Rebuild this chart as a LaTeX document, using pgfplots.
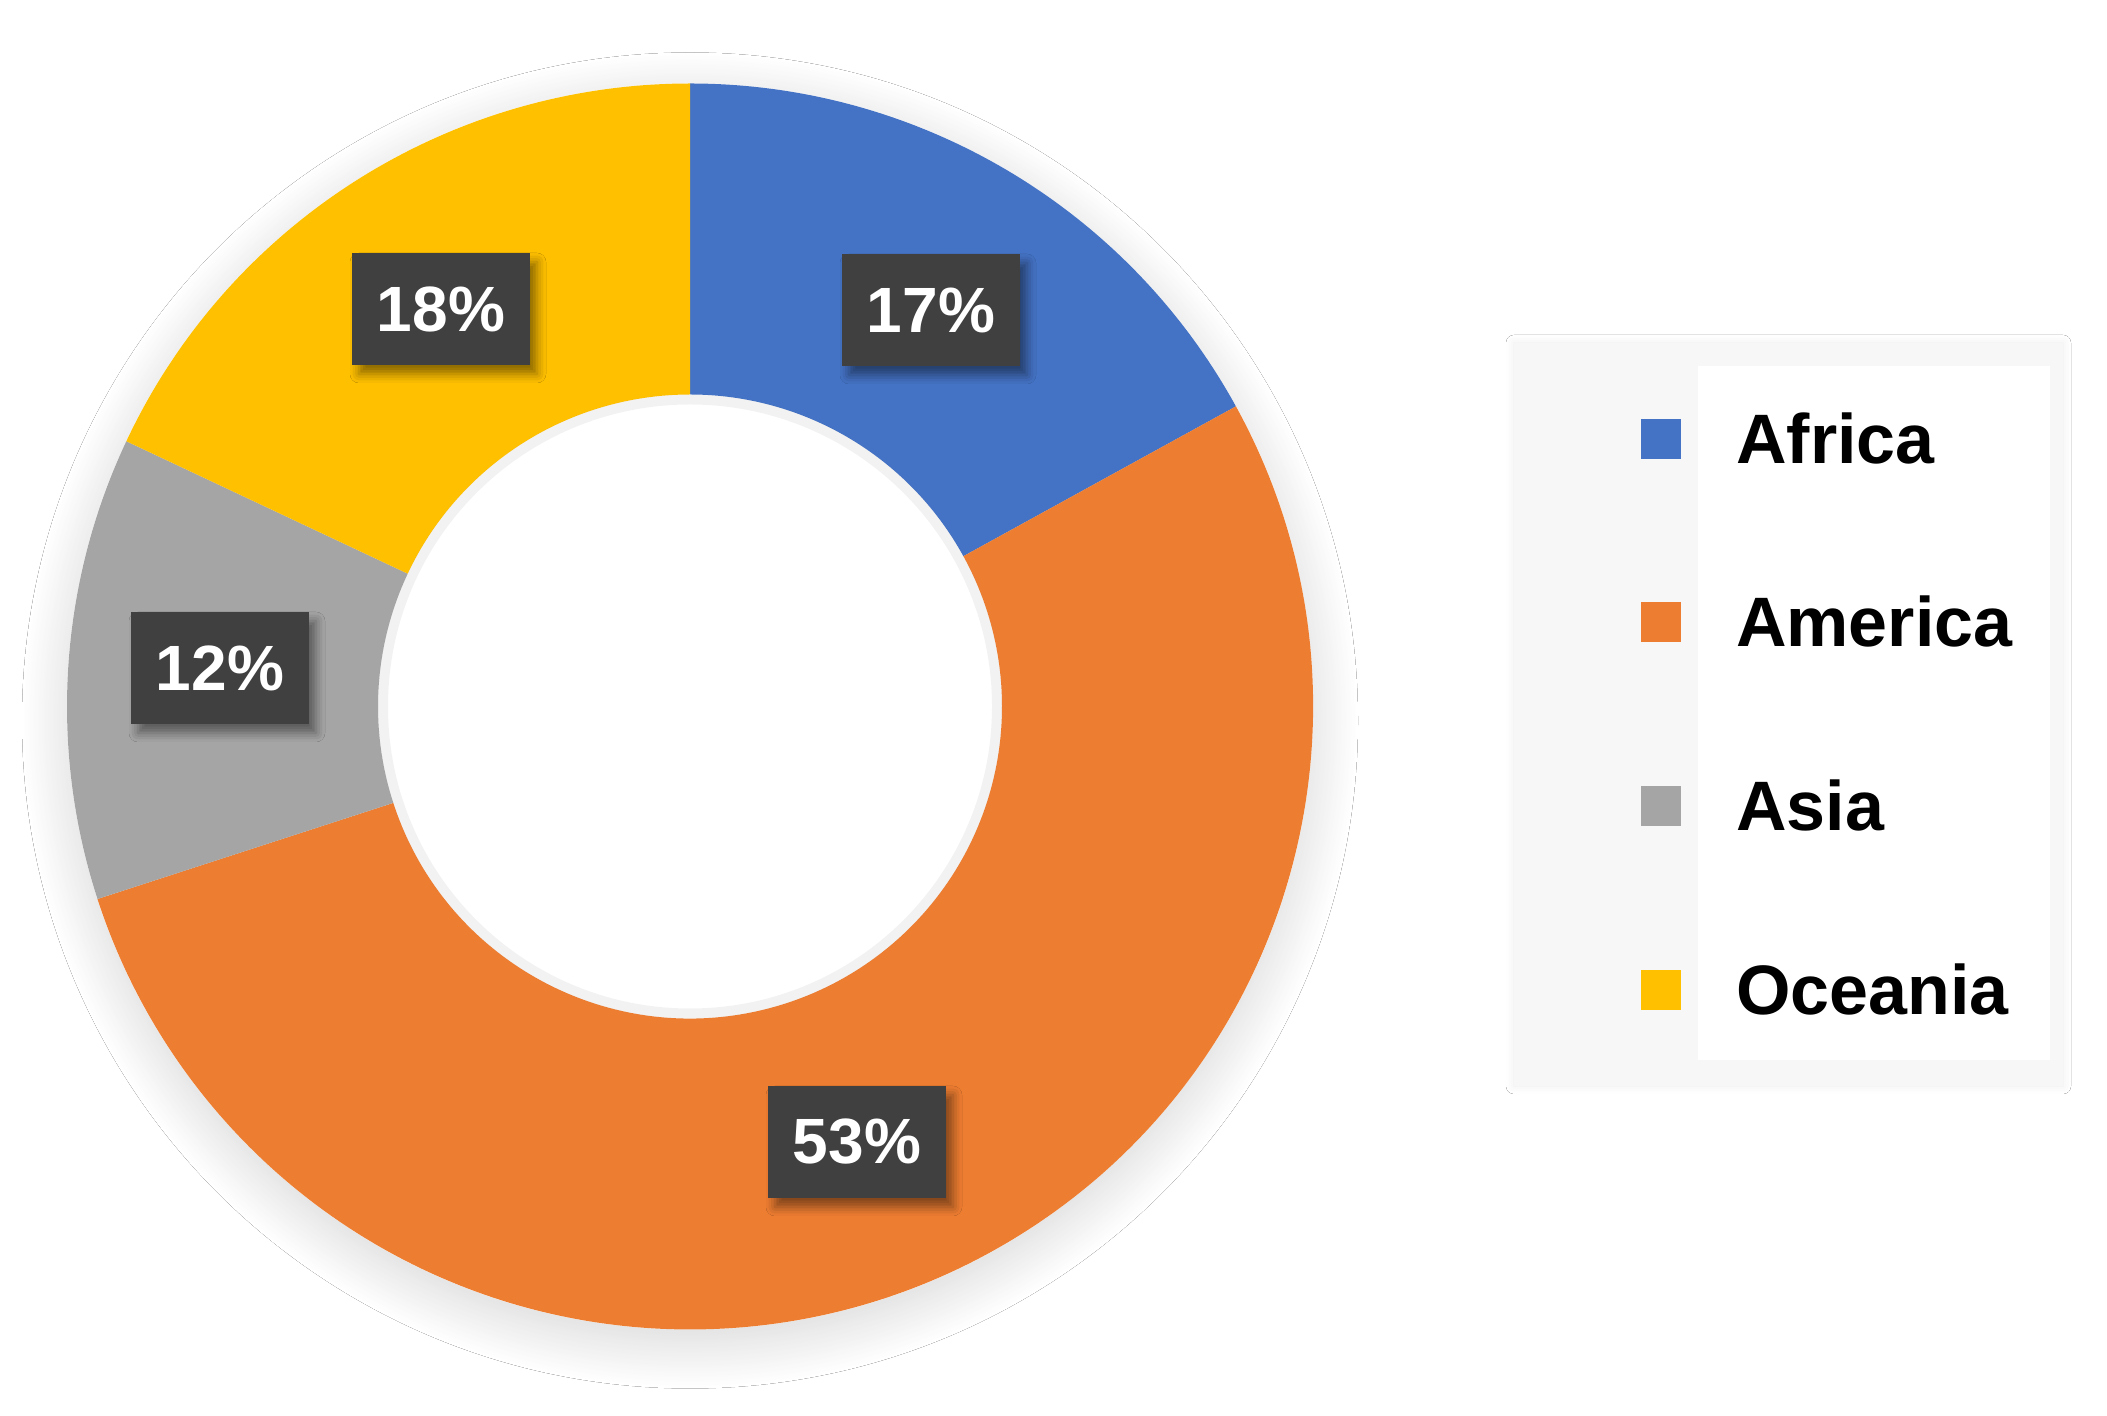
\documentclass[border=0pt]{standalone}
\usepackage{fontspec}
\setmainfont{Liberation Sans}
\usepackage{pgfplots}
\usepackage{pgfplotstable}
\pgfplotsset{compat=1.18}
\usetikzlibrary{shadows.blur}
\definecolor{cAfrica}{HTML}{4472C4}
\definecolor{cAmerica}{HTML}{ED7D31}
\definecolor{cAsia}{HTML}{A5A5A5}
\definecolor{cOceania}{HTML}{FFC000}
\definecolor{lblbox}{HTML}{404040}
\definecolor{legbg}{HTML}{F7F7F7}

\pgfplotstableread{
name value
Africa 17
America 53
Asia 12
Oceania 18
}\shares

\newcommand\ring[3]{% colour, start angle, end angle
  \fill[#1] ([shift={(#2:623)}]C) arc[start angle=#2, end angle=#3, radius=623]
    -- ([shift={(#3:312)}]C) arc[start angle=#3, end angle=#2, radius=312] -- cycle;}

\tikzset{lbl/.style={fill=lblbox, text=white, minimum width=178, minimum height=112,
  inner sep=0pt, font=\fontsize{64}{70}\selectfont\bfseries,
  blur shadow={shadow xshift=7pt, shadow yshift=-9pt, shadow blur radius=9pt, shadow opacity=45}},
  legtext/.style={anchor=base west, inner sep=0pt, font=\fontsize{70}{80}\selectfont\bfseries}}

\begin{document}
\begin{tikzpicture}
\pgfplotstablegetelem{0}{value}\of\shares \global\let\vA\pgfplotsretval
\pgfplotstablegetelem{1}{value}\of\shares \global\let\vB\pgfplotsretval
\pgfplotstablegetelem{2}{value}\of\shares \global\let\vC\pgfplotsretval
\pgfplotstablegetelem{3}{value}\of\shares \global\let\vD\pgfplotsretval
\pgfmathsetmacro\aO{90}
\pgfmathsetmacro\aA{\aO-3.6*\vA}
\pgfmathsetmacro\aB{\aA-3.6*\vB}
\pgfmathsetmacro\aC{\aB-3.6*\vC}
\pgfmathsetmacro\aD{\aC-3.6*\vD}
\begin{axis}[hide axis, x=1pt, y=1pt, xmin=0, xmax=2107, ymin=0, ymax=1416, clip=false]
\fill[white] (axis cs:0,0) rectangle (axis cs:2107,1416);
\coordinate (C) at (axis cs:690,709.5);
% donut shadow
\fill[white, blur shadow={shadow xshift=0pt, shadow yshift=-14pt, shadow blur radius=45pt, shadow blur steps=30, shadow opacity=16}] (C) circle[radius=623];
\ring{cAfrica}{\aO}{\aA}
\ring{cAmerica}{\aA}{\aB}
\ring{cAsia}{\aB}{\aC}
\ring{cOceania}{\aC}{\aD}
% faint inner shade of the hole
\draw[black, opacity=0.05, line width=10pt] (C) circle[radius=307];
% data labels
\node[lbl] at (axis cs:931,1106) {\vA\%};
\node[lbl] at (axis cs:857,274) {\vB\%};
\node[lbl] at (axis cs:220,748) {\vC\%};
\node[lbl] at (axis cs:441,1107) {\vD\%};
% legend
\fill[legbg, blur shadow={shadow xshift=0pt, shadow yshift=0pt, shadow blur radius=8pt, shadow opacity=8}] (axis cs:1514,330) rectangle (axis cs:2063,1073);
\fill[white] (axis cs:1698,356) rectangle (axis cs:2050,1050);
\fill[cAfrica]  (axis cs:1641,957) rectangle (axis cs:1681,997);
\fill[cAmerica] (axis cs:1641,774) rectangle (axis cs:1681,814);
\fill[cAsia]    (axis cs:1641,590) rectangle (axis cs:1681,630);
\fill[cOceania] (axis cs:1641,406) rectangle (axis cs:1681,446);
\node[legtext] at (axis cs:1736,952) {Africa};
\node[legtext] at (axis cs:1736,769) {America};
\node[legtext] at (axis cs:1736,585) {Asia};
\node[legtext] at (axis cs:1736,401) {Oceania};
\end{axis}
\end{tikzpicture}
\end{document}
